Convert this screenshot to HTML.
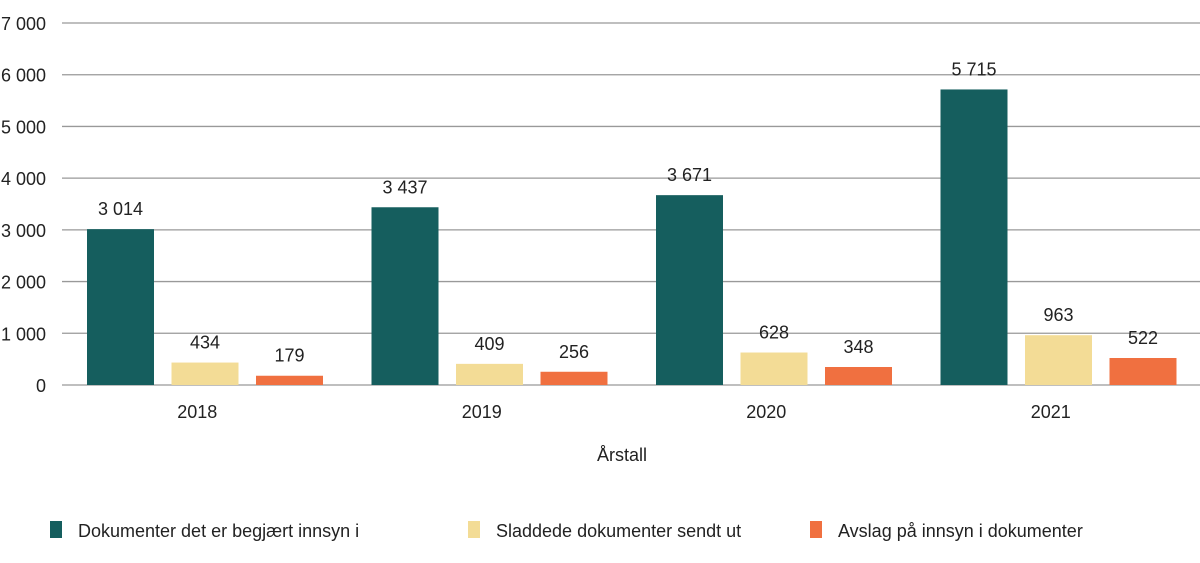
<!DOCTYPE html>
<html><head><meta charset="utf-8"><style>
body{margin:0;background:#fff;font-family:"Liberation Sans",sans-serif;}
svg text{font-family:"Liberation Sans",sans-serif;fill:#222;}
</style></head><body>
<svg width="1200" height="558" id="c"></svg>
<script>
const categories=["2018","2019","2020","2021"];
const requested=[3014,3437,3671,5715];
const redacted=[434,409,628,963];
const refused=[179,256,348,522];
const yTicks=[0,1000,2000,3000,4000,5000,6000,7000];
const seriesNames=["Dokumenter det er begjært innsyn i","Sladdede dokumenter sendt ut","Avslag på innsyn i dokumenter"];
const colors=["#155e5e","#f3dc96","#f07040"];
const NS="http://www.w3.org/2000/svg",svg=document.getElementById('c');
const x0=62,x1=1200,yb=385,yt=23,max=7000;
const y=v=>yb-(v/max)*(yb-yt);
const gw=(x1-x0)/categories.length;
const fmt=v=>String(v).replace(/\B(?=(\d{3})+(?!\d))/g,"\u2009 ").replace("\u2009 "," ");
function el(t,a,p){const e=document.createElementNS(NS,t);for(const k in a)e.setAttribute(k,a[k]);(p||svg).appendChild(e);return e;}
yTicks.forEach(v=>{
 const l=el('line',{x1:x0,x2:x1,y1:y(v),y2:y(v),stroke:'#999','stroke-width':1.3});
 
 
 const t=el('text',{x:46,y:y(v)+7,'text-anchor':'end','font-size':18});
 t.textContent=fmt(v);
 
 
});
const series=[requested,redacted,refused];
categories.forEach((c,i)=>{
 const gx=x0+gw*i;
 series.forEach((s,j)=>{
  const bx=gx+25+j*84.5;
  const r=el('rect',{x:bx,y:y(s[i]),width:67,height:yb-y(s[i]),fill:colors[j]});
  
  
  const t=el('text',{x:bx+33.5,y:y(s[i])-14,'text-anchor':'middle','font-size':18});
  t.textContent=fmt(s[i]);
  
  
 });
 const t=el('text',{x:gx+gw/2-7,y:418,'text-anchor':'middle','font-size':18});
 t.textContent=c;
 
 
});
const xt=el('text',{x:622,y:461,'text-anchor':'middle','font-size':18});
xt.textContent="Årstall";


const lx=[50,468,810];
seriesNames.forEach((n,j)=>{
 const r=el('rect',{x:lx[j],y:521,width:12,height:17,fill:colors[j]});
 
 
 const t=el('text',{x:lx[j]+28,y:537,'font-size':18});
 t.textContent=n;
 
 
});
</script>
</body></html>
